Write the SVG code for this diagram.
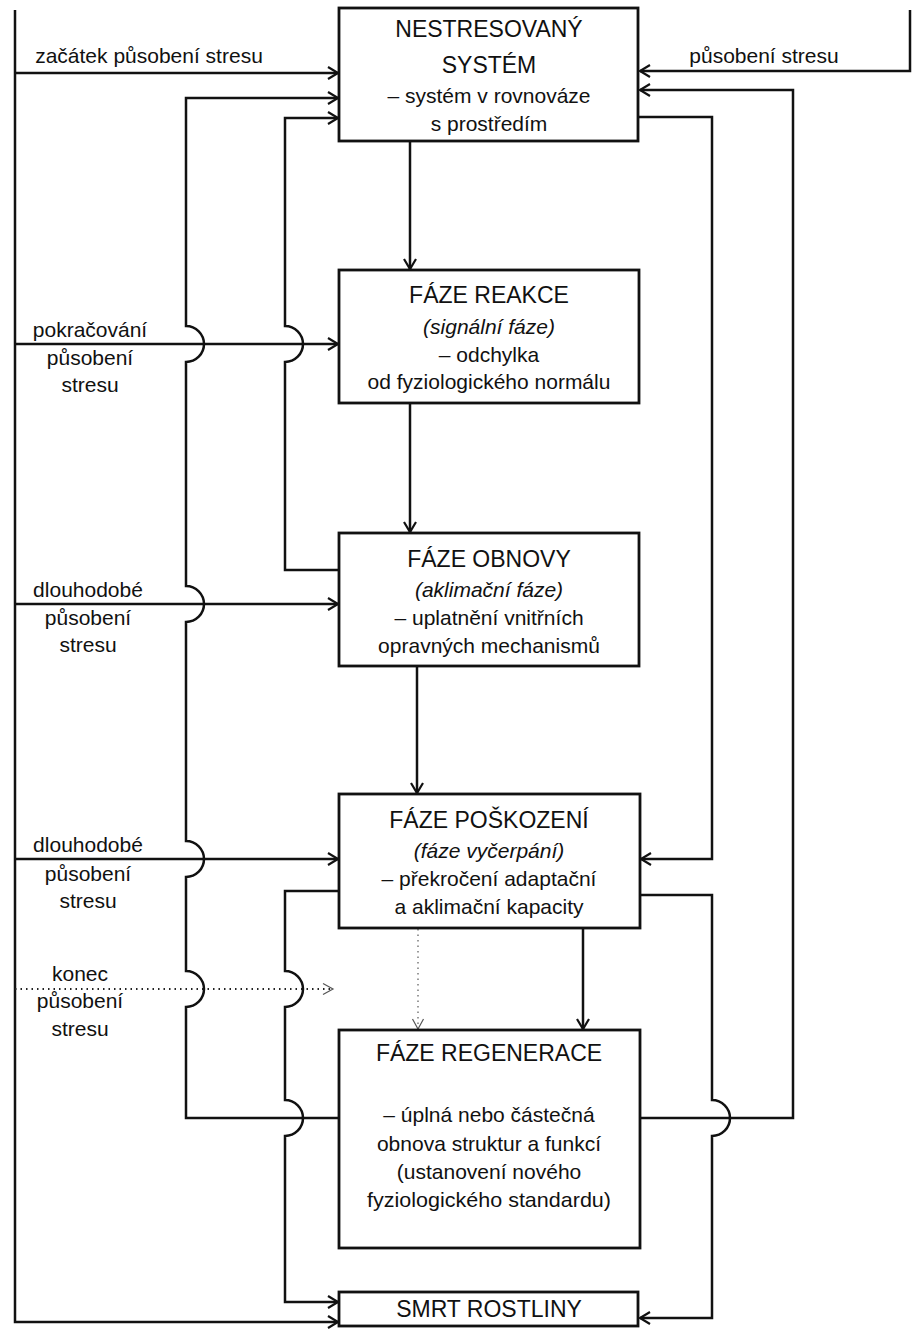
<svg xmlns="http://www.w3.org/2000/svg" width="917" height="1333" viewBox="0 0 917 1333">
  <defs>
    <marker id="arr" markerUnits="userSpaceOnUse" markerWidth="14" markerHeight="16" refX="11" refY="7" orient="auto">
      <path d="M1,1 L11,7 L1,13" fill="none" stroke="#111" stroke-width="2.2"/>
    </marker>
    <marker id="arrDot" markerUnits="userSpaceOnUse" markerWidth="14" markerHeight="16" refX="11" refY="7" orient="auto">
      <path d="M1,1.5 L11,7 L1,12.5" fill="none" stroke="#555" stroke-width="1.2"/>
    </marker>
  </defs>
  <style>
    .box { fill: #fff; stroke: #111; stroke-width: 2.8; }
    .ln { fill: none; stroke: #111; stroke-width: 2.5; }
    .dot { fill: none; stroke: #222; stroke-width: 2; stroke-dasharray: 1.5 4; }
    .dotv { fill: none; stroke: #666; stroke-width: 1.3; stroke-dasharray: 1.5 4; }
    text { font-family: "Liberation Sans", Arial, sans-serif; fill: #111; }
    .t { font-size: 23px; text-anchor: middle; }
    .b { font-size: 21px; text-anchor: middle; }
    .i { font-size: 21px; text-anchor: middle; font-style: italic; }
    .l { font-size: 21px; text-anchor: middle; }
  </style>
  <rect width="917" height="1333" fill="#fff"/>

  <!-- connectors -->
  <g id="connectors">
    <!-- left stress trunk and its inputs -->
    <path class="ln" d="M15,10 V1322 H338" marker-end="url(#arr)"/>
    <path class="ln" d="M15,73 H338" marker-end="url(#arr)"/>
    <path class="ln" d="M15,344 H338" marker-end="url(#arr)"/>
    <path class="ln" d="M15,604 H338" marker-end="url(#arr)"/>
    <path class="ln" d="M15,859 H338" marker-end="url(#arr)"/>
    <path class="dot" d="M15,989 H333" marker-end="url(#arrDot)"/>
    <!-- right stress input -->
    <path class="ln" d="M910,10 V71 H640" marker-end="url(#arr)"/>
    <!-- regeneration back to unstressed system (left loop) -->
    <path class="ln" d="M339,1118 H186 V1007 A18,18 0 0 0 186,971 V877 A18,18 0 0 0 186,841 V622 A18,18 0 0 0 186,586 V362 A18,18 0 0 0 186,326 V98 H338" marker-end="url(#arr)"/>
    <!-- recovery back to unstressed system -->
    <path class="ln" d="M339,570 H285 V362 A18,18 0 0 0 285,326 V118 H338" marker-end="url(#arr)"/>
    <!-- damage to death (left) -->
    <path class="ln" d="M339,891 H285 V971 A18,18 0 0 1 285,1007 V1100 A18,18 0 0 1 285,1136 V1302 H338" marker-end="url(#arr)"/>
    <!-- unstressed system to damage (right) -->
    <path class="ln" d="M638,117 H712 V859 H641" marker-end="url(#arr)"/>
    <!-- damage to death (right) -->
    <path class="ln" d="M640,895 H712 V1100 A18,18 0 0 1 712,1136 V1318 H640" marker-end="url(#arr)"/>
    <!-- regeneration back to unstressed system (right loop) -->
    <path class="ln" d="M640,1118 H793 V90 H640" marker-end="url(#arr)"/>
    <!-- main sequence -->
    <path class="ln" d="M410,141 V269" marker-end="url(#arr)"/>
    <path class="ln" d="M410,403 V532" marker-end="url(#arr)"/>
    <path class="ln" d="M417,666 V793" marker-end="url(#arr)"/>
    <path class="ln" d="M583,928 V1029" marker-end="url(#arr)"/>
    <path class="dotv" d="M418,929 V1029" marker-end="url(#arrDot)"/>
  </g>

  <!-- connector labels -->
  <g id="labels">
    <text class="l" x="149" y="63">začátek působení stresu</text>
    <text class="l" x="764" y="63">působení stresu</text>
    <text class="l" x="90" y="337">pokračování</text>
    <text class="l" x="90" y="365">působení</text>
    <text class="l" x="90" y="392">stresu</text>
    <text class="l" x="88" y="597">dlouhodobé</text>
    <text class="l" x="88" y="625">působení</text>
    <text class="l" x="88" y="652">stresu</text>
    <text class="l" x="88" y="852">dlouhodobé</text>
    <text class="l" x="88" y="881">působení</text>
    <text class="l" x="88" y="908">stresu</text>
    <text class="l" x="80" y="981">konec</text>
    <text class="l" x="80" y="1008">působení</text>
    <text class="l" x="80" y="1036">stresu</text>
  </g>

  <g id="nestresovany">
    <rect class="box" x="339" y="8" width="299" height="133"/>
    <text class="t" x="489" y="37">NESTRESOVANÝ</text>
    <text class="t" x="489" y="73">SYSTÉM</text>
    <text class="b" x="489" y="103">– systém v rovnováze</text>
    <text class="b" x="489" y="131">s prostředím</text>
  </g>

  <g id="reakce">
    <rect class="box" x="339" y="270" width="300" height="133"/>
    <text class="t" x="489" y="303">FÁZE REAKCE</text>
    <text class="i" x="489" y="334">(signální fáze)</text>
    <text class="b" x="489" y="362">– odchylka</text>
    <text class="b" x="489" y="389">od fyziologického normálu</text>
  </g>

  <g id="obnovy">
    <rect class="box" x="339" y="533" width="300" height="133"/>
    <text class="t" x="489" y="567">FÁZE OBNOVY</text>
    <text class="i" x="489" y="597">(aklimační fáze)</text>
    <text class="b" x="489" y="625">– uplatnění vnitřních</text>
    <text class="b" x="489" y="653">opravných mechanismů</text>
  </g>

  <g id="poskozeni">
    <rect class="box" x="339" y="794" width="301" height="134"/>
    <text class="t" x="489" y="828">FÁZE POŠKOZENÍ</text>
    <text class="i" x="489" y="858">(fáze vyčerpání)</text>
    <text class="b" x="489" y="886">– překročení adaptační</text>
    <text class="b" x="489" y="914">a aklimační kapacity</text>
  </g>

  <g id="regenerace">
    <rect class="box" x="339" y="1030" width="301" height="218"/>
    <text class="t" x="489" y="1061">FÁZE REGENERACE</text>
    <text class="b" x="489" y="1122">– úplná nebo částečná</text>
    <text class="b" x="489" y="1151">obnova struktur a funkcí</text>
    <text class="b" x="489" y="1179">(ustanovení nového</text>
    <text class="b" x="489" y="1207" textLength="244" lengthAdjust="spacingAndGlyphs">fyziologického standardu)</text>
  </g>

  <g id="smrt">
    <rect class="box" x="339" y="1292" width="299" height="34"/>
    <text class="t" x="489" y="1317">SMRT ROSTLINY</text>
  </g>
</svg>
